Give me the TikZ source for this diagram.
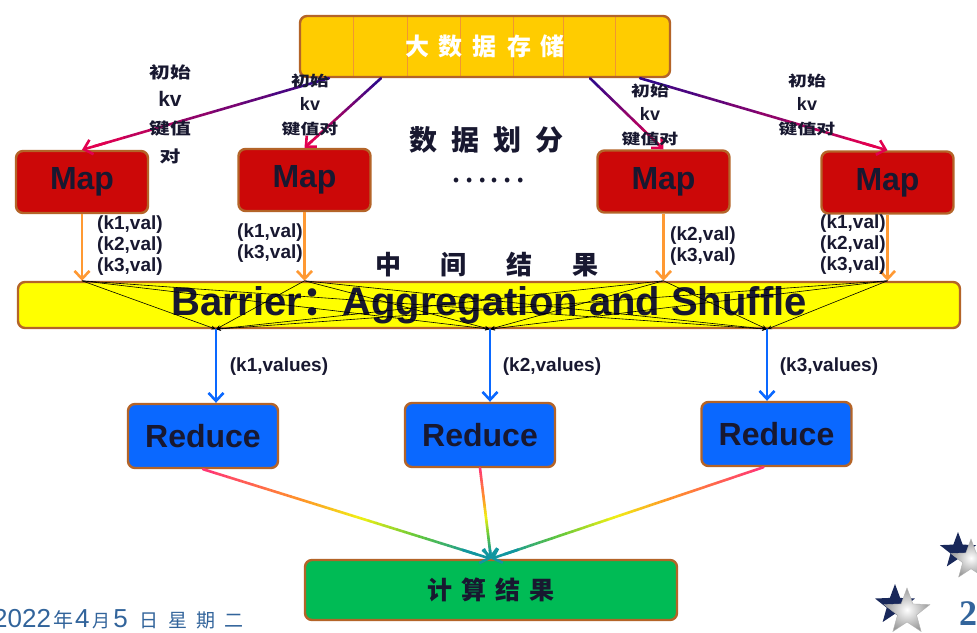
\documentclass[tikz,border=0pt]{standalone}
\usepackage{fontspec}
\setmainfont{Liberation Sans}
\newfontfamily\cjk{Noto Sans CJK SC}
\newfontfamily\cjkwide[FakeStretch=1.3]{Noto Sans CJK SC}
\newfontfamily\serifnum{Liberation Serif}
\usetikzlibrary{arrows.meta,calc,shapes.geometric}

\definecolor{ink}{RGB}{24,24,48}
\definecolor{rim}{RGB}{180,100,40}
\definecolor{storeyellow}{RGB}{255,204,0}
\definecolor{seam}{RGB}{240,150,50}
\definecolor{mapred}{RGB}{204,8,8}
\definecolor{baryellow}{RGB}{255,255,0}
\definecolor{redblue}{RGB}{10,104,255}
\definecolor{resgreen}{RGB}{0,187,85}
\definecolor{orangeline}{RGB}{255,153,51}
\definecolor{kvblue}{RGB}{40,8,140}
\definecolor{kvred}{RGB}{226,0,80}
\definecolor{gpink}{RGB}{255,50,120}
\definecolor{gorange}{RGB}{255,150,40}
\definecolor{gyellow}{RGB}{240,240,20}
\definecolor{ggreen}{RGB}{100,200,60}
\definecolor{gteal}{RGB}{17,150,160}
\definecolor{dateblue}{RGB}{50,100,155}
\definecolor{starnavy}{RGB}{25,40,90}

% line in colour steps: from, to, list of colA/colB/tA/tB
\newcommand\gradline[3]{%
  \foreach \ca/\cb/\ta/\tb in {#3}{
    \foreach \i in {0,...,7}{
      \pgfmathsetmacro\sa{\ta+(\tb-\ta)*\i/8}
      \pgfmathsetmacro\sb{\ta+(\tb-\ta)*(\i+1)/8}
      \pgfmathtruncatemacro\pc{100-\i*12.5-6}
      \draw[line width=2.6pt, line cap=round, color=\ca!\pc!\cb] ($(#1)!\sa!(#2)$) -- ($(#1)!\sb!(#2)$);
    }
  }
}

\begin{document}
\begin{tikzpicture}[x=1pt, y=-1pt,
  box/.style={draw=rim, line width=2.4pt, rounded corners=7pt, inner sep=0pt},
  mapbox/.style={box, fill=mapred, minimum width=132pt, minimum height=62pt, text=ink, font=\bfseries\fontsize{32}{32}\selectfont},
  redbox/.style={box, fill=redblue, minimum width=150pt, minimum height=64pt, text=ink, font=\bfseries\fontsize{32}{32}\selectfont},
  kvlab/.style={align=center, text=ink, inner sep=0pt, font=\cjkwide\bfseries\fontsize{14.5}{24}\selectfont},
  vallab/.style={align=left, text=ink, inner sep=0pt, font=\bfseries\fontsize{19}{21}\selectfont},
  keyarrow/.style={line width=2.6pt, -{Straight Barb[length=8pt,width=15pt]}},
  mixline/.style={line width=0.6pt, -{Stealth[length=5pt,width=4pt]}}
]
\useasboundingbox[fill=white] (0,0) rectangle (977,632);

% boxes
\node[box, fill=storeyellow, minimum width=370pt, minimum height=61pt, text=white,
  font=\cjk\bfseries\fontsize{24}{24}\selectfont,
  path picture={\foreach \x in {-132,-78,-25,28,78,130}
    \draw[seam, line width=0.6pt] ([xshift=\x pt]path picture bounding box.north) -- ([xshift=\x pt]path picture bounding box.south);}]
  (store) at (485,46.5) {大\hspace{10pt}数\hspace{10pt}据\hspace{10pt}存\hspace{10pt}储};
\node[mapbox] (m1) at (82,182) {Map};
\node[mapbox] (m2) at (304.5,180) {Map};
\node[mapbox] (m3) at (663.5,181.5) {Map};
\node[mapbox] (m4) at (887.5,182.5) {Map};
\node[box, fill=baryellow, minimum width=942pt, minimum height=46pt, text=ink,
  font=\bfseries\fontsize{40}{40}\selectfont] (bar) at (489,305) {Barrier{\cjk ：}Aggregation and Shuffle};
\node[redbox] (r1) at (203,436) {Reduce};
\node[redbox] (r2) at (480,435) {Reduce};
\node[redbox] (r3) at (776.5,434) {Reduce};
\node[box, fill=resgreen, minimum width=372pt, minimum height=60pt, text=ink,
  font=\cjk\bfseries\fontsize{25}{25}\selectfont] (res) at (491,590) {计\hspace{9pt}算\hspace{9pt}结\hspace{9pt}果};

% split input
\coordinate (s1) at ([xshift=-156pt]store.south);
\coordinate (s2) at ([xshift=-104pt]store.south);
\coordinate (s3) at ([xshift=105pt]store.south);
\coordinate (s4) at ([xshift=155pt]store.south);
\foreach \k in {1,...,4}{
  \gradline{s\k}{m\k.north}{kvblue/kvred/0/0.95}
  \draw[keyarrow, kvred] ($(s\k)!0.9!(m\k.north)$) -- (m\k.north);
}

% map output and shuffle
\foreach \k in {1,...,4}{
  \coordinate (t\k) at (m\k.south |- bar.north);
  \draw[keyarrow, orangeline] (m\k) -- (t\k);
}
\coordinate (b1) at ([xshift=-273pt]bar.south);
\coordinate (b2) at ([xshift=1pt]bar.south);
\coordinate (b3) at ([xshift=278pt]bar.south);
\foreach \k in {1,...,4}
  \foreach \j in {1,2,3}
    \draw[mixline] (t\k) -- (b\j);
\foreach \j in {1,2,3}
  \draw[keyarrow, redblue] (b\j) -- (b\j |- r\j.north);

% reduce output
\coordinate (e3) at ([xshift=-13pt]r3.south);
\gradline{r1.south}{res.north}{gpink/gorange/0/0.35, gorange/gyellow/0.35/0.55, gyellow/ggreen/0.55/0.75, ggreen/gteal/0.75/0.95}
\gradline{r2.south}{res.north}{gpink/gorange/0/0.35, gorange/gyellow/0.35/0.55, gyellow/ggreen/0.55/0.75, ggreen/gteal/0.75/0.95}
\gradline{e3}{res.north}{gpink/gorange/0/0.35, gorange/gyellow/0.35/0.55, gyellow/ggreen/0.55/0.75, ggreen/gteal/0.75/0.95}
\draw[keyarrow, gteal] ($(r1.south)!0.9!(res.north)$) -- (res.north);
\draw[keyarrow, gteal] ($(r2.south)!0.9!(res.north)$) -- (res.north);
\draw[keyarrow, gteal] ($(e3)!0.9!(res.north)$) -- (res.north);

% labels
\node[kvlab, font=\cjkwide\bfseries\fontsize{16}{28}\selectfont] (kv1) at (170,114) {初始\\{\rmfamily\fontsize{21}{28}\selectfont kv}\\键值\\对};
\node[kvlab] (kv2) at (310,105) {初始\\{\rmfamily\fontsize{18}{24}\selectfont kv}\\键值对};
\node[kvlab] (kv3) at (650,115) {初始\\{\rmfamily\fontsize{18}{24}\selectfont kv}\\键值对};
\node[kvlab] (kv4) at (807,105) {初始\\{\rmfamily\fontsize{18}{24}\selectfont kv}\\键值对};
\node[text=ink, font=\cjk\bfseries\fontsize{28}{28}\selectfont] (split) at (486,140) {数\hspace{14pt}据\hspace{14pt}划\hspace{14pt}分};
\node[text=ink, font=\cjk\fontsize{35}{35}\selectfont] (dots) at (488,181) {……};
\node[text=ink, font=\cjk\bfseries\fontsize{26}{26}\selectfont] (mid) at (487,265) {中\hspace{40pt}间\hspace{40pt}结\hspace{40pt}果};

\node[vallab, anchor=west] (v1) at (97,246) {(k1,val)\\(k2,val)\\(k3,val)};
\node[vallab, anchor=west] (v2) at (237,243.5) {(k1,val)\\(k3,val)};
\node[vallab, anchor=west] (v3) at (670,246) {(k2,val)\\(k3,val)};
\node[vallab, anchor=west] (v4) at (820,245) {(k1,val)\\(k2,val)\\(k3,val)};
\node[vallab] (w1) at (279,367) {(k1,values)};
\node[vallab] (w2) at (552,367) {(k2,values)};
\node[vallab] (w3) at (829,367) {(k3,values)};

% footer
\node[anchor=base west, inner sep=0pt, text=dateblue, font=\fontsize{26}{26}\selectfont] (date) at (-7,627)
  {2022\hspace{2pt}{\cjk\fontsize{20}{20}\selectfont 年}\hspace{2pt}4\hspace{3pt}{\cjk\fontsize{18}{18}\selectfont 月}\hspace{3pt}5\hspace{12pt}{\cjk\fontsize{19}{19}\selectfont 日\hspace{10pt}星\hspace{9pt}期\hspace{9pt}二}};
\node[star, star points=5, star point ratio=2.4, fill=starnavy, minimum size=38pt, inner sep=0pt] (st1) at (958,551) {};
\node[star, star points=5, star point ratio=2.4, shading=radial, inner color=white, outer color=gray!80, draw=gray!60, minimum size=42pt, inner sep=0pt] (st2) at (971,560) {};
\node[star, star points=5, star point ratio=2.4, fill=starnavy, minimum size=42pt, inner sep=0pt] (st3) at (895,605) {};
\node[star, star points=5, star point ratio=2.4, shading=radial, inner color=white, outer color=gray!80, draw=gray!60, minimum size=48pt, inner sep=0pt] (st4) at (907,612) {};
\node[text=dateblue, font=\serifnum\bfseries\fontsize{36}{36}\selectfont] (pg) at (968,614) {2};
\end{tikzpicture}
\end{document}
